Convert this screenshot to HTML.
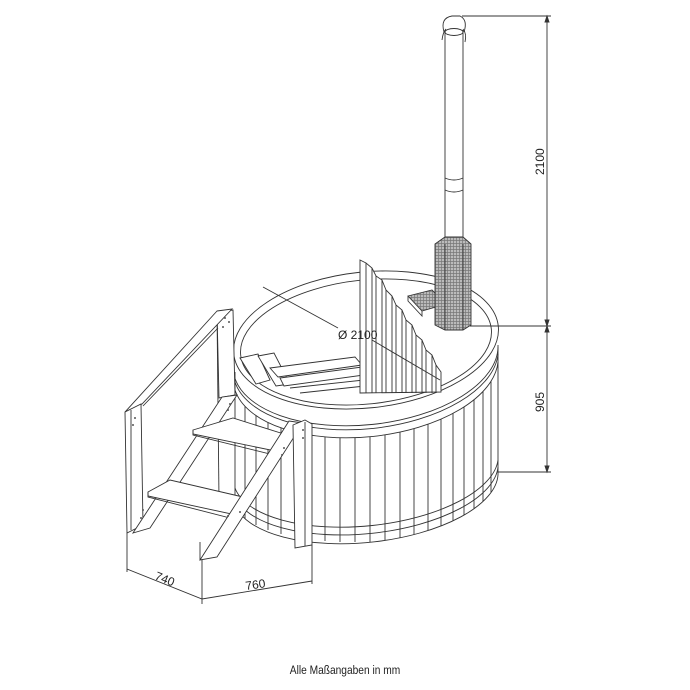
<!DOCTYPE html>
<html><head><meta charset="utf-8"><style>
html,body{margin:0;padding:0;background:#fff}
svg{display:block}
text{font-family:"Liberation Sans",sans-serif;fill:#222}
</style></head><body>
<svg width="690" height="690" viewBox="0 0 690 690" xmlns="http://www.w3.org/2000/svg">
<defs>
<pattern id="hat" width="3" height="3" patternUnits="userSpaceOnUse">
<rect width="3" height="3" fill="#bbb"/><path d="M0 0.5H3M0.5 0V3" stroke="#777" stroke-width="0.7"/>
</pattern>
<clipPath id="body"><path d="M235 390 A133 68 -6 0 0 498 362 L498 475 A133 58 -6 0 1 235 505Z"/></clipPath>
</defs>
<g fill="none" stroke="#333" stroke-width="0.9">
<!-- tub body -->
<path d="M235 372 L235 505 A133 58 -6 0 0 498 475 L498 345" fill="#fff"/>
<ellipse cx="366" cy="340" rx="133" ry="68" transform="rotate(-6 366 340)" fill="#fff"/>
<ellipse cx="366" cy="342" rx="126" ry="62" transform="rotate(-6 366 342)"/>
<!-- top bands -->
<path d="M234 375 A133 68 -6 0 0 498 347"/>
<path d="M235 382 A133 68 -6 0 0 498 354"/>
<path d="M235 390 A133 68 -6 0 0 498 362"/>
<!-- staves -->
<g clip-path="url(#body)">
<path d="M245 380V520M256 384V525M268 388V530M281 392V534M295 395V537M310 397V539M325 399V541M340 400V542M355 400V542M370 400V542M385 399V541M400 397V539M414 394V537M428 391V534M441 387V530M453 383V526M464 378V521M474 373V516M483 368V510M491 362V504"/>
</g>
<!-- bottom bands -->
<path d="M235 488 A133 58 -6 0 0 498 460"/>
<path d="M235 496 A133 58 -6 0 0 498 467"/>
<!-- bench -->
<path d="M240 358 L258 354 L270 380 L256 384Z" fill="#fff"/>
<path d="M258 356 L274 353 L290 384 L276 386Z" fill="#fff"/>
<path d="M270 368 L355 357 L362 365 L278 377Z" fill="#fff"/>
<path d="M280 378 L362 367 L364 375 L284 386Z" fill="#fff"/>
<path d="M290 388 L364 380 M300 393 L365 386"/>
<!-- partition -->
<path d="M360 260 L366 263 L372 268 L376 276 L382 280 L386 290 L392 296 L396 305 L402 310 L406 320 L412 325 L416 335 L422 340 L426 350 L432 355 L436 365 L441 372 L441 392 L360 393Z" fill="#fff"/>
<path d="M366 263V393M372 268V393M376 276V393M382 280V393M386 290V393M392 296V393M396 305V393M402 310V393M406 320V393M412 325V393M416 335V393M422 340V393M426 350V393M432 355V393M436 365V393"/>
<!-- door plate -->
<path d="M408 296 L432 290 L446 304 L422 311Z" fill="url(#hat)"/>
<path d="M408 296 L408 301 L422 316 L422 311"/>
<!-- chimney -->
<path d="M445 30 L445 240 M463 30 L463 240"/>
<path d="M445 178 Q454 182 463 178 M445 190 Q454 194 463 190"/>
<path d="M444 32 Q440 18 452 16 L460 16 Q468 20 464 32"/>
<ellipse cx="454" cy="32" rx="9" ry="3.5"/>
<path d="M442 40 Q443 32 446 29 M463 29 Q467 34 465 42"/>
<path d="M435 244 L445 237 L463 237 L471 244 L471 325 L463 330 L445 330 L435 325Z" fill="url(#hat)"/>
<path d="M445 244 V330 M463 244 V330"/>
<!-- diameter -->
<path d="M263 287 L338 328 M372 340 L440 380"/>
<!-- dimension lines right -->
<path d="M462 16 H551 M470 326 H551 M498 472 H551 M547 16 V472"/>
<path d="M547 16 l-2 6 h4z M547 326 l-2 -6 h4z M547 326 l-2 6 h4z M547 472 l-2 -6 h4z" fill="#333"/>
<!-- stairs: rear posts -->
<path d="M217 312 L233 310 L235 395 L219 398Z" fill="#fff"/>
<path d="M217 312 L219 500"/>
<!-- handrail -->
<path d="M217 311 L232 309 L142 404 L125 412Z" fill="#fff"/>
<path d="M218 328 L143 406"/>
<!-- left front post -->
<path d="M125 412 L141 404 L143 525 L127 533Z" fill="#fff"/>
<path d="M131 410 V530"/>
<!-- left stringer -->
<path d="M133 533 L222 397 L237 395 L150 528Z" fill="#fff"/>
<!-- steps -->
<path d="M193 430 L233 418 L287 435 L280 452 L193 434Z" fill="#fff"/>
<path d="M193 430 V435 L278 456 L280 452"/>
<path d="M148 492 L170 480 L243 497 L236 515 L148 496Z" fill="#fff"/>
<path d="M148 492 V497 L234 519 L236 515"/>
<!-- right stringer -->
<path d="M200 560 L289 421 L303 423 L217 557Z" fill="#fff"/>
<path d="M200 542 V560"/>
<!-- right front post -->
<path d="M293 425 L305 420 L312 424 L312 545 L295 548Z" fill="#fff"/>
<path d="M305 422 V546"/>
<!-- screws -->
<g fill="#555" stroke="none">
<circle cx="225" cy="318" r="1"/><circle cx="229" cy="322" r="1"/><circle cx="223" cy="327" r="1"/>
<circle cx="135" cy="418" r="1"/><circle cx="133" cy="425" r="1"/>
<circle cx="230" cy="404" r="1"/><circle cx="228" cy="410" r="1"/>
<circle cx="143" cy="510" r="1"/><circle cx="141" cy="518" r="1"/>
<circle cx="282" cy="455" r="1"/><circle cx="284" cy="448" r="1"/>
<circle cx="228" cy="516" r="1"/><circle cx="240" cy="512" r="1"/>
<circle cx="303" cy="430" r="1"/><circle cx="303" cy="438" r="1"/>
</g>
<!-- bottom dims -->
<path d="M127 533 V572 M202 560 V604 M312 545 V584 M127 569 L202 599 L312 581"/>
</g>
<text x="0" y="0" font-size="12" transform="translate(338 339)">Ø 2100</text>
<text font-size="12" transform="translate(544 175) rotate(-90)">2100</text>
<text font-size="12" transform="translate(544 412) rotate(-90)">905</text>
<text font-size="12" transform="translate(154 579) rotate(22)">740</text>
<text font-size="12" transform="translate(246 590) rotate(-8)">760</text>
<text x="345" y="674" font-size="12" text-anchor="middle" transform="translate(345 0) scale(0.85 1) translate(-345 0)">Alle Maßangaben in mm</text>
</svg>
</body></html>
